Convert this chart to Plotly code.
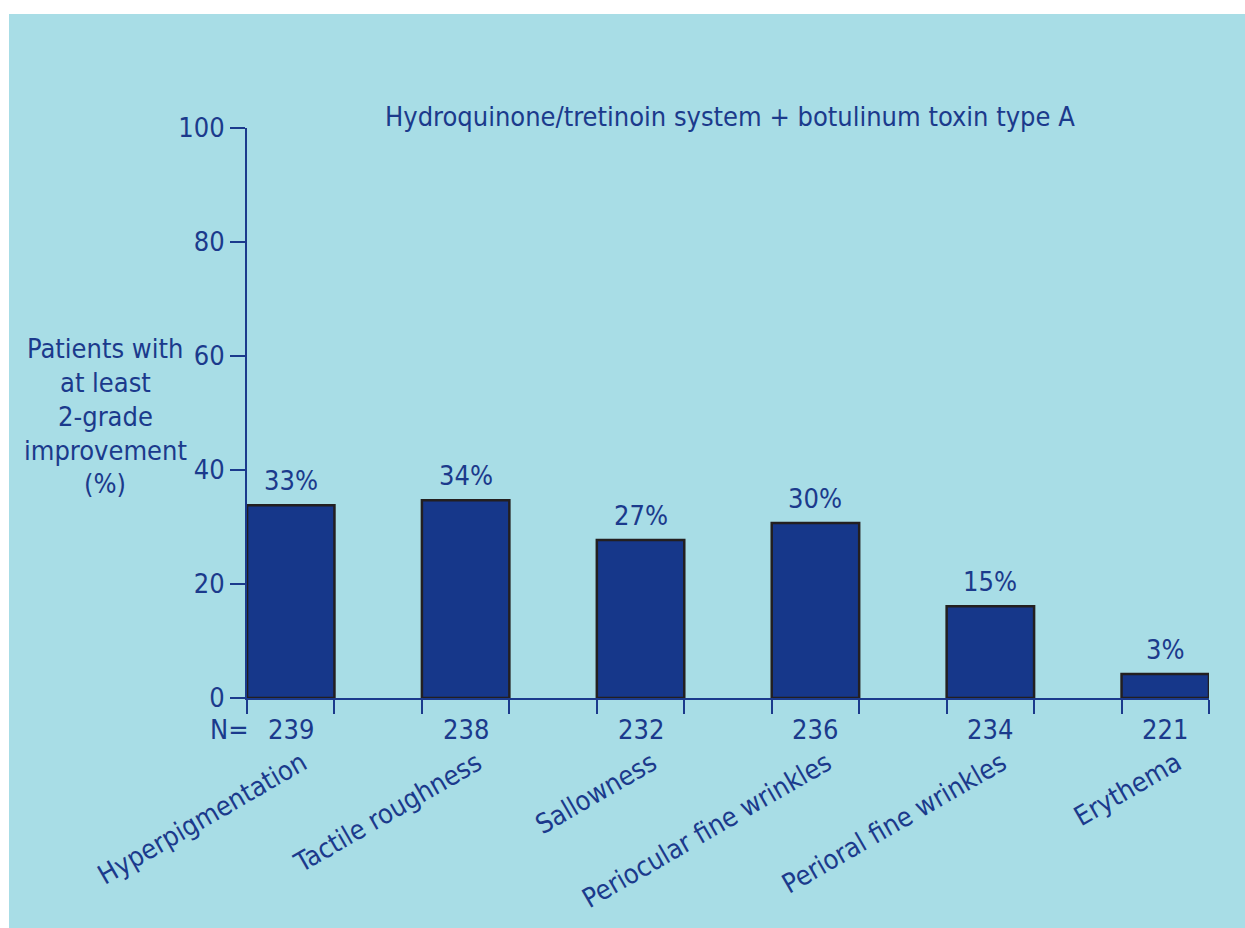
import plotly.graph_objects as go

categories = ["Hyperpigmentation", "Tactile roughness", "Sallowness",
              "Periocular fine wrinkles", "Perioral fine wrinkles", "Erythema"]
values = [33.8, 34.7, 27.7, 30.7, 16.1, 4.2]
value_labels = ["33%", "34%", "27%", "30%", "15%", "3%"]
n_values = ["239", "238", "232", "236", "234", "221"]
y_ticks = [0, 20, 40, 60, 80, 100]
title_text = "Hydroquinone/tretinoin system + botulinum toxin type A"
y_title_lines = ["Patients with", "at least", "2-grade", "improvement", "(%)"]

FONT = "DejaVu Sans Condensed, Liberation Sans Narrow, sans-serif"
TXT = "#1B3A8C"
BAR = "#16378A"
PANEL = "#A8DDE6"
FS = 27

W, H = 1245, 928
L, R, T, B = 247, 36, 128, 230
pw, ph = W - L - R, H - T - B

def px_x(x):
    return (x - L) / pw

def px_y(y):
    return (H - B - y) / ph

xs = list(range(len(categories)))

fig = go.Figure()
fig.add_trace(go.Bar(
    x=xs, y=values, width=0.5,
    marker=dict(color=BAR, line=dict(color="#231F20", width=2.5)),
    hoverinfo="skip",
))

edges = []
for i in xs:
    edges += [i - 0.25, i + 0.25]
label_pos = [i + 0.065 for i in xs]

fig.update_layout(
    width=W, height=H,
    margin=dict(l=L, r=R, t=T, b=B, pad=0, autoexpand=False),
    paper_bgcolor="white",
    plot_bgcolor=PANEL,
    showlegend=False,
    font=dict(family=FONT, size=FS, color=TXT),
    xaxis=dict(
        range=[-0.25, 5.25], showgrid=False, zeroline=False, automargin=False,
        showline=True, linecolor=TXT, linewidth=2,
        tickmode="array", tickvals=label_pos, ticktext=categories,
        ticks="", tickangle=-30, ticklabelstandoff=37,
        tickfont=dict(family=FONT, size=FS, color=TXT),
        minor=dict(tickmode="array", tickvals=edges, ticks="outside",
                   ticklen=14, tickwidth=2, tickcolor=TXT, showgrid=False),
    ),
    yaxis=dict(
        range=[0, 100], showgrid=False, zeroline=False, automargin=False,
        showline=True, linecolor=TXT, linewidth=2,
        tickmode="array", tickvals=y_ticks,
        ticks="outside", ticklen=15, tickwidth=2, tickcolor=TXT,
        tickfont=dict(family=FONT, size=FS, color=TXT),
    ),
    shapes=[dict(type="rect", xref="paper", yref="paper",
                 x0=px_x(9), x1=px_x(1245), y0=px_y(928), y1=px_y(14),
                 fillcolor=PANEL, line=dict(width=0), layer="below")],
)

ann = []
ann.append(dict(text=title_text, xref="paper", yref="paper",
                x=px_x(730), y=px_y(117), xanchor="center", yanchor="middle",
                showarrow=False, font=dict(family=FONT, size=FS, color=TXT)))
for k, line in enumerate(y_title_lines):
    ann.append(dict(text=line, xref="paper", yref="paper",
                    x=px_x(105), y=px_y(348 + 34 * k), xanchor="center", yanchor="middle",
                    showarrow=False, font=dict(family=FONT, size=FS, color=TXT)))
for i, v, lab in zip(xs, values, value_labels):
    ann.append(dict(text=lab, x=i, y=v, xref="x", yref="y",
                    xanchor="center", yanchor="middle", yshift=25,
                    showarrow=False, font=dict(family=FONT, size=FS, color=TXT)))
ann.append(dict(text="N=", xref="paper", yref="paper",
                x=px_x(229), y=px_y(729), xanchor="center", yanchor="middle",
                showarrow=False, font=dict(family=FONT, size=FS, color=TXT)))
for i, n in zip(xs, n_values):
    ann.append(dict(text=n, x=i, xref="x", yref="paper", y=px_y(729),
                    xanchor="center", yanchor="middle",
                    showarrow=False, font=dict(family=FONT, size=FS, color=TXT)))
fig.update_layout(annotations=ann)

fig.write_html("out.html")
